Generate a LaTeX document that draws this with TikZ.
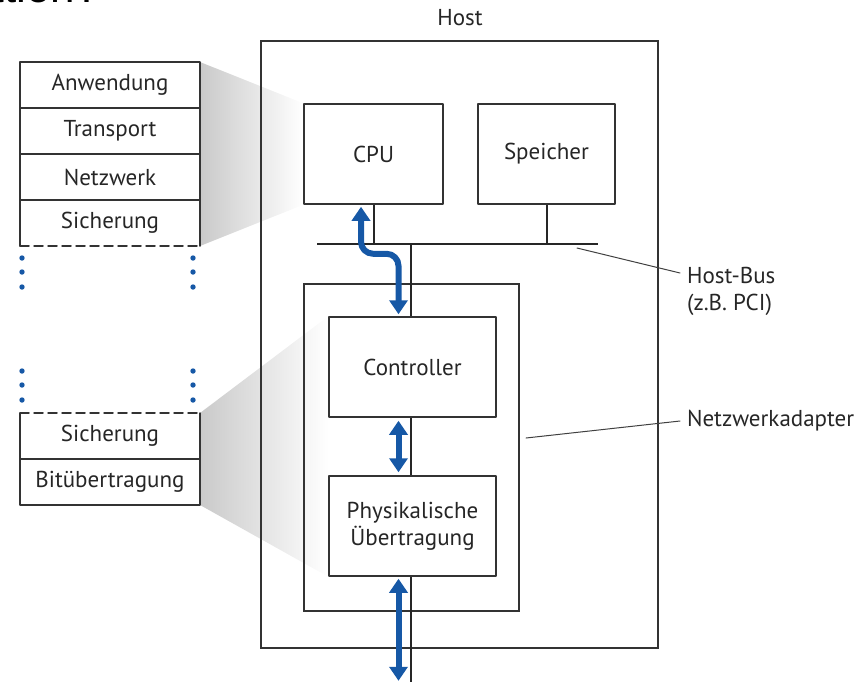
\documentclass[tikz,border=0pt]{standalone}
\usepackage{fontspec}
\setmainfont{PT Sans}
\newfontfamily\titlefont{Liberation Sans}
\usepackage{xcolor}
\usetikzlibrary{arrows.meta,positioning,calc,backgrounds}
\definecolor{netblue}{RGB}{22,88,166}

\begin{document}
\begin{tikzpicture}[line cap=round,line join=round,x=0.5pt,y=-0.5pt,
    font=\fontsize{11.5}{13.5}\selectfont,
    box/.style={draw=black!80,line width=0.75pt,fill=white,minimum height=50pt,inner sep=2pt,text=black!85},
    layer/.style={line width=0.75pt,minimum width=90pt,minimum height=23pt,outer sep=0pt,inner sep=0pt,text=black!85},
    frame/.style={draw=black!80,line width=0.75pt,inner sep=0pt,outer sep=0pt},
    bus/.style={line width=1.3pt,black!85,line cap=butt},
    stub/.style={line width=1pt,black!85,line cap=butt},
    leader/.style={line width=0.5pt,black!75},
    bidir/.style={{Triangle[width=9pt,length=7pt]}-{Triangle[width=9pt,length=7pt]},line width=3pt,netblue,line cap=butt},
    fade/.style={left color=black!21,right color=white}]
    \clip (0,0) rectangle (862,682);
    \node[anchor=base east,inner sep=0pt,font=\titlefont\fontsize{22}{22}\selectfont] (title) at (100,2) {ation?};

    % protocol stack, upper part
    \node[layer,draw=black!80] (anw) at (110,85) {Anwendung};
    \node[layer,draw=black!80,below=0pt of anw] (trans) {Transport};
    \node[layer,draw=black!80,below=0pt of trans] (netz) {Netzwerk};
    \node[layer,below=0pt of netz] (sich) {Sicherung};
    \draw[black!80,line width=0.75pt] (sich.north west) -- (sich.south west);
    \draw[black!80,line width=0.75pt] (sich.north east) -- (sich.south east);
    \draw[black!80,line width=0.75pt,dash pattern=on 4.5pt off 2.5pt] (sich.south west) -- (sich.south east);

    % protocol stack, lower part
    \node[layer] (sichb) at (110,436) {Sicherung};
    \node[layer,draw=black!80,below=0pt of sichb] (bit) {Bitübertragung};
    \draw[black!80,line width=0.75pt] (sichb.north west) -- (sichb.south west);
    \draw[black!80,line width=0.75pt] (sichb.north east) -- (sichb.south east);
    \draw[black!80,line width=0.75pt,dash pattern=on 4.5pt off 2.5pt] (sichb.north west) -- (sichb.north east);

    \foreach \y in {258,272,287,371,385,400}
        \foreach \x in {22,193}
            \fill[netblue] (\x,\y) circle (1.35pt);

    % host components
    \node[box,minimum width=69.5pt] (cpu) at (373.5,154) {CPU};
    \node[box,minimum width=68.5pt] (mem) at (546.5,154) {Speicher};
    \node[box,minimum width=83.5pt] (ctrl) at (412.5,367) {Controller};
    \node[box,minimum width=83.5pt,align=center] (phys) at (412.5,526) {Physikalische\\Übertragung};

    \coordinate (busleft) at (317,244);
    \coordinate (busright) at (598,244);
    \coordinate (busjoint) at (411,244);
    \coordinate (wire) at (411,682);

    \begin{scope}[on background layer]
        \shade[fade] (anw.north east) -- (cpu.north west) -- (cpu.south west) -- (sich.south east) -- cycle;
        \shade[fade] (sichb.north east) -- (ctrl.north west) -- (phys.south west) -- (bit.south east) -- cycle;
        \node[frame,minimum width=198.5pt,minimum height=303.5pt] (host) at (459.5,344.5) {};
        \node[frame,minimum width=107.5pt,minimum height=163.5pt] (nic) at (411.5,447.5) {};
        \draw[bus] (busleft) -- (busright);
        \draw[stub] (cpu.south) -- (cpu.south |- busjoint);
        \draw[stub] (mem.south) -- (mem.south |- busjoint);
        \draw[stub] (busjoint) -- (wire);
    \end{scope}

    \draw[bidir,rounded corners=6pt] ($(cpu.south)+(-12.5,2)$) -- ++(0,47) -- ++(37.5,0) -- ($(ctrl.north)+(-14,-2)$);
    \draw[bidir] ($(ctrl.south)+(-14,3)$) -- ($(phys.north)+(-14,-3)$);
    \draw[bidir] ($(phys.south)+(-14,2)$) -- ($(phys.south)+(-14,104)$);

    \node[text=black!85] (hostlbl) at (460,18) {Host};
    \node[anchor=west,align=left,text=black!85] (buslbl) at (680,291) {Host-Bus\\(z.B. PCI)};
    \node[anchor=west,text=black!85] (niclbl) at (680,421) {Netzwerkadapter};
    \coordinate (busnote) at (577,248);
    \coordinate (nicnote) at (526,438);
    \draw[leader] (busnote) -- ([yshift=9pt]buslbl.west);
    \draw[leader] (nicnote) -- (niclbl.west);
\end{tikzpicture}
\end{document}
